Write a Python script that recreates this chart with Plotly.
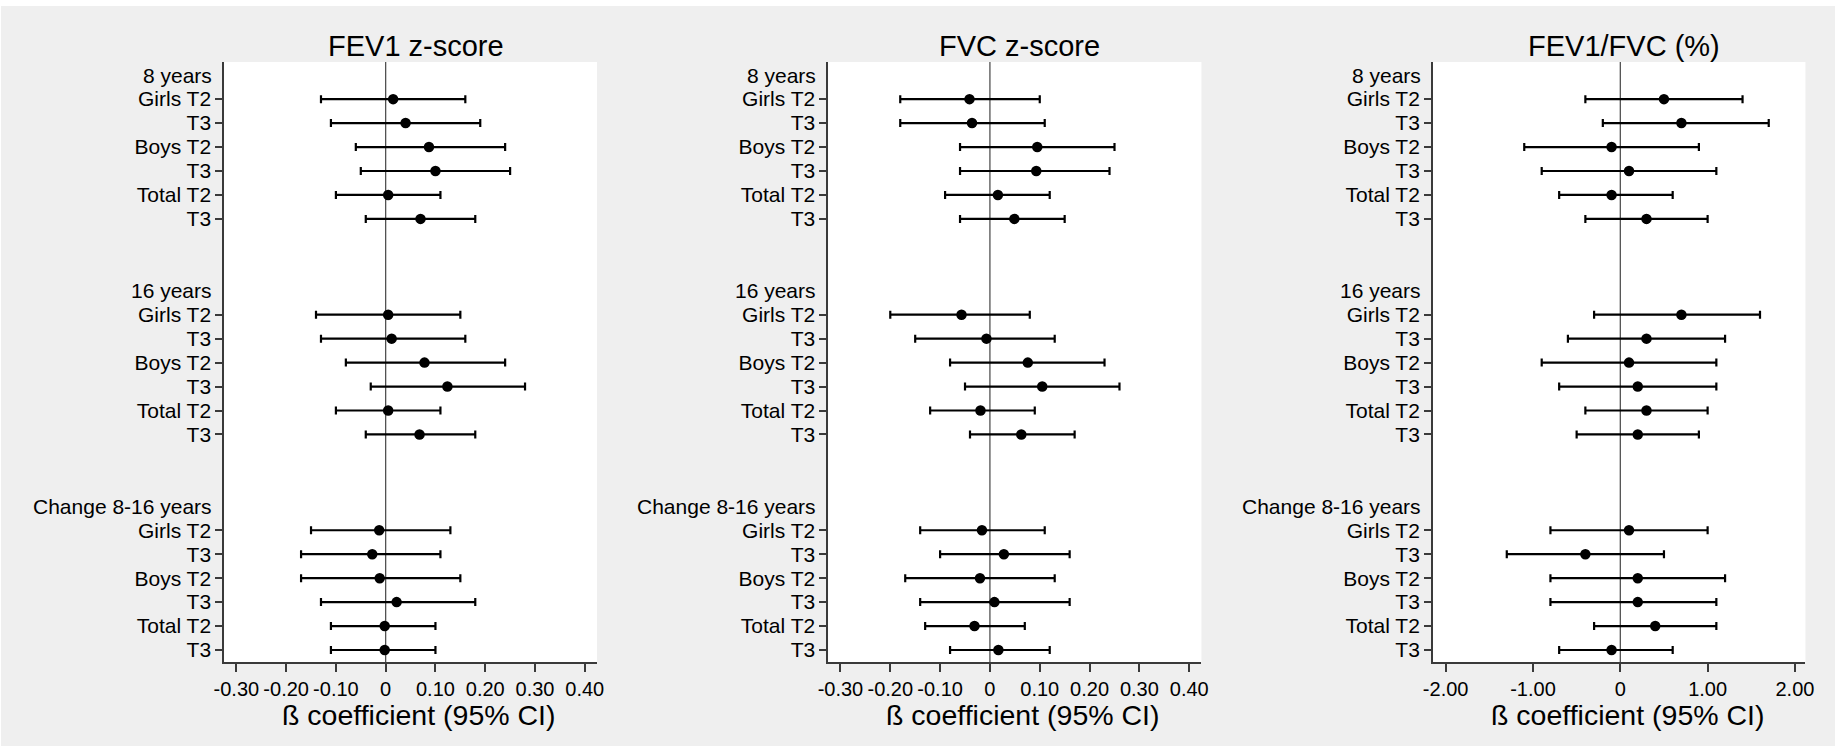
import plotly.graph_objects as go

# ---------------- data ----------------
panel_titles = ["FEV1 z-score", "FVC z-score", "FEV1/FVC (%)"]
group_labels = ["8 years", "16 years", "Change 8-16 years"]
row_labels = ["Girls T2", "T3", "Boys T2", "T3", "Total T2", "T3"]

# FEV1 z-score: estimates, lower CI, upper CI (8 years | 16 years | change)
fev1_est = [0.015, 0.04, 0.087, 0.10, 0.005, 0.07,
            0.005, 0.012, 0.078, 0.124, 0.005, 0.068,
            -0.013, -0.027, -0.012, 0.022, -0.002, -0.002]
fev1_lo = [-0.13, -0.11, -0.06, -0.05, -0.10, -0.04,
           -0.14, -0.13, -0.08, -0.03, -0.10, -0.04,
           -0.15, -0.17, -0.17, -0.13, -0.11, -0.11]
fev1_hi = [0.16, 0.19, 0.24, 0.25, 0.11, 0.18,
           0.15, 0.16, 0.24, 0.28, 0.11, 0.18,
           0.13, 0.11, 0.15, 0.18, 0.10, 0.10]

# FVC z-score
fvc_est = [-0.041, -0.036, 0.095, 0.093, 0.016, 0.049,
           -0.057, -0.007, 0.076, 0.105, -0.019, 0.063,
           -0.016, 0.028, -0.020, 0.009, -0.031, 0.017]
fvc_lo = [-0.18, -0.18, -0.06, -0.06, -0.09, -0.06,
          -0.20, -0.15, -0.08, -0.05, -0.12, -0.04,
          -0.14, -0.10, -0.17, -0.14, -0.13, -0.08]
fvc_hi = [0.10, 0.11, 0.25, 0.24, 0.12, 0.15,
          0.08, 0.13, 0.23, 0.26, 0.09, 0.17,
          0.11, 0.16, 0.13, 0.16, 0.07, 0.12]

# FEV1/FVC (%)
ratio_est = [0.5, 0.7, -0.1, 0.1, -0.1, 0.3,
             0.7, 0.3, 0.1, 0.2, 0.3, 0.2,
             0.1, -0.4, 0.2, 0.2, 0.4, -0.1]
ratio_lo = [-0.4, -0.2, -1.1, -0.9, -0.7, -0.4,
            -0.3, -0.6, -0.9, -0.7, -0.4, -0.5,
            -0.8, -1.3, -0.8, -0.8, -0.3, -0.7]
ratio_hi = [1.4, 1.7, 0.9, 1.1, 0.6, 1.0,
            1.6, 1.2, 1.1, 1.1, 1.0, 0.9,
            1.0, 0.5, 1.2, 1.1, 1.1, 0.6]

x_tickvals_z = [-0.3, -0.2, -0.1, 0, 0.1, 0.2, 0.3, 0.4]
x_ticktext_z = ["-0.30", "-0.20", "-0.10", "0", "0.10", "0.20", "0.30", "0.40"]
x_tickvals_r = [-2, -1, 0, 1, 2]
x_ticktext_r = ["-2.00", "-1.00", "0", "1.00", "2.00"]
x_title = "ß coefficient (95% CI)"

# ---------------- layout helpers ----------------
OX, OY = 1, 6            # page offset of the figure (body margin)
W, H = 1835 - OX, 746 - OY
FONT = "Liberation Sans, Arial, Helvetica, sans-serif"
BG = "#efefef"
TICK_SIZE = 21
XTICK_SIZE = 20
TITLE_SIZE = 28.5

group_gap = 9  # rows per group block (header + 6 rows + 2 blank)
header_pos = [g * group_gap for g in range(len(group_labels))]
row_pos = [g * group_gap + 1 + i for g in range(len(group_labels)) for i in range(len(row_labels))]
row_text = row_labels * len(group_labels)

panels = [
    (fev1_est, fev1_lo, fev1_hi, x_tickvals_z, x_ticktext_z, [-0.3247, 0.4245], (216.3, 593.1)),
    (fvc_est, fvc_lo, fvc_hi, x_tickvals_z, x_ticktext_z, [-0.3247, 0.4245], (826.7, 1203.9)),
    (ratio_est, ratio_lo, ratio_hi, x_tickvals_r, x_ticktext_r, [-2.147, 2.12], (1437.7, 1814.2)),
]

plot_top, plot_bot = 62, 662


def fx(px):
    return (px - OX) / W


def fy(py):
    return 1 - (py - OY) / H


fig = go.Figure()
annotations = []
shapes = []
for k, (est, lo, hi, tv, tt, xr, (px0, px1)) in enumerate(panels):
    ax = "" if k == 0 else str(k + 1)
    fig.add_trace(go.Scatter(
        x=est, y=row_pos, mode="markers",
        marker=dict(color="black", size=10.5, symbol="circle"),
        error_x=dict(type="data", symmetric=False,
                     array=[h - e for h, e in zip(hi, est)],
                     arrayminus=[e - l for e, l in zip(est, lo)],
                     color="black", thickness=2.2, width=4),
        xaxis="x" + ax, yaxis="y" + ax, showlegend=False, hoverinfo="x+y",
    ))
    fig.update_layout(**{
        "xaxis" + ax: dict(
            domain=[fx(px0), fx(px1)], range=xr, tickvals=tv, ticktext=tt, tickangle=0,
            showgrid=False, zeroline=False, showline=True, linecolor="#3a3a3a", linewidth=1.5,
            ticks="outside", ticklen=8, tickwidth=1.5, tickcolor="#3a3a3a",
            tickfont=dict(family=FONT, size=XTICK_SIZE, color="black"), anchor="y" + ax,
            fixedrange=True,
        ),
        "yaxis" + ax: dict(
            domain=[fy(plot_bot), fy(plot_top)], range=[24.5, -0.55],
            tickvals=row_pos, ticktext=row_text,
            showgrid=False, zeroline=False, showline=True, linecolor="#3a3a3a", linewidth=1.5,
            ticks="outside", ticklen=7, tickwidth=1.5, tickcolor="#3a3a3a",
            tickfont=dict(family=FONT, size=TICK_SIZE, color="black"), anchor="x" + ax,
            fixedrange=True,
        ),
    })
    # zero reference line
    shapes.append(dict(type="line", xref="x" + ax, yref="y" + ax + " domain",
                       x0=0, x1=0, y0=0, y1=1, line=dict(color="#444444", width=1.2), layer="below"))
    # panel title
    annotations.append(dict(text=panel_titles[k], xref="x" + ax + " domain", yref="paper",
                            x=0.5, y=fy(46), xshift=5, showarrow=False,
                            xanchor="center", yanchor="middle",
                            font=dict(family=FONT, size=TITLE_SIZE + 0.5, color="black")))
    # x-axis title
    annotations.append(dict(text=x_title, xref="x" + ax + " domain", yref="paper",
                            x=0.5, y=fy(715), xshift=8.5, showarrow=False,
                            xanchor="center", yanchor="middle",
                            font=dict(family=FONT, size=TITLE_SIZE, color="black")))
    # group headers
    for g, lab in enumerate(group_labels):
        annotations.append(dict(text=lab, xref="x" + ax + " domain", yref="y" + ax,
                                x=0, y=header_pos[g], xshift=-10, showarrow=False,
                                xanchor="right", yanchor="middle",
                                font=dict(family=FONT, size=TICK_SIZE, color="black")))

fig.update_layout(
    width=W, height=H, margin=dict(l=0, r=0, t=0, b=0),
    paper_bgcolor=BG, plot_bgcolor="white",
    annotations=annotations, shapes=shapes,
    font=dict(family=FONT, color="black"),
)

fig.write_html(
    "out.html",
    post_script="document.body.style.margin='%dpx 0 0 %dpx';document.body.style.overflow='hidden';" % (OY, OX),
)
